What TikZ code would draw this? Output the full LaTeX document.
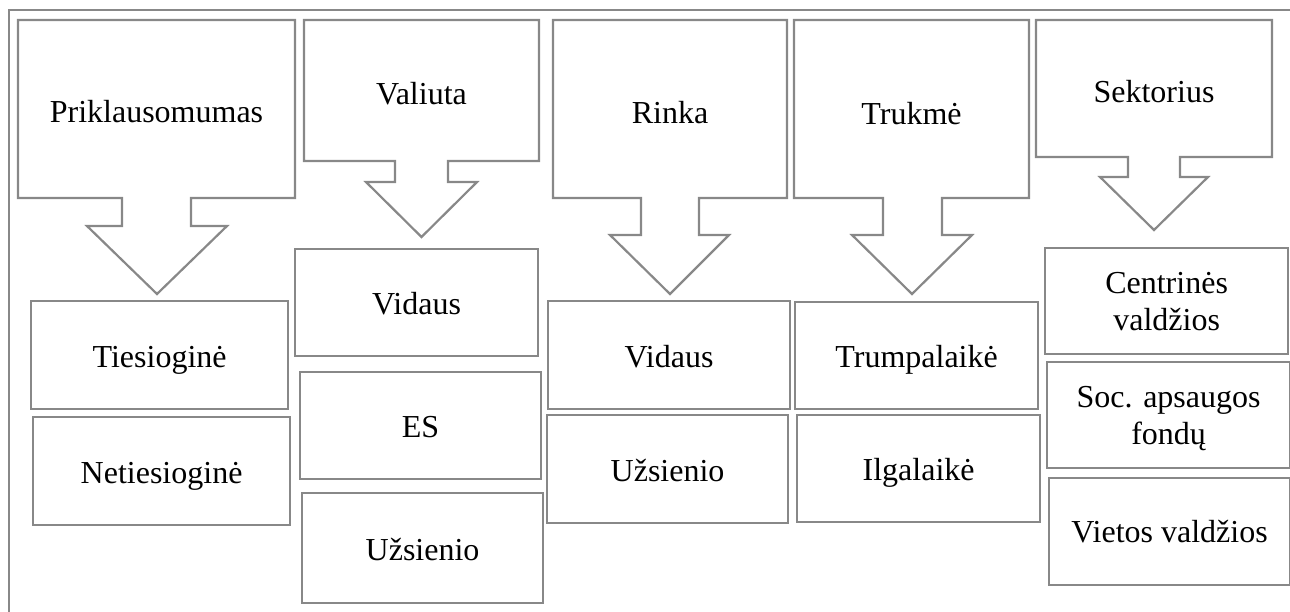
\documentclass[tikz,border=0pt]{standalone}
\usepackage{fontspec}
\setmainfont{Liberation Serif}
\definecolor{linegray}{RGB}{136,136,136}
\begin{document}
\begin{tikzpicture}[x=1pt,y=-1pt,
  ln/.style={draw=linegray, line width=2.2pt},
  lbl/.style={font=\fontsize{32}{37}\selectfont, inner sep=0pt, anchor=base},
  box/.style={ln, fill=white, inner sep=0pt, anchor=north west,
    font=\fontsize{32}{37}\selectfont, text height=24pt, text depth=0pt, align=center},
  box2/.style={box, text height=58pt}]
\useasboundingbox (0,0) rectangle (1290,612);
% outer frame (top and left only)
\draw[ln, line width=2pt] (9,612) -- (9,10) -- (1290,10);

% category callouts
\draw[ln] (18,20) -- (295,20) -- (295,198) -- (191,198) -- (191,226) -- (227,226)
  -- (157,294) -- (87,226) -- (122,226) -- (122,198) -- (18,198) -- cycle;
\node[lbl] (prik) at (156.5,123) {Priklausomumas};

\draw[ln] (304,20) -- (539,20) -- (539,161) -- (448,161) -- (448,182) -- (477,182)
  -- (421.5,237) -- (366,182) -- (395,182) -- (395,161) -- (304,161) -- cycle;
\node[lbl] (val) at (421.5,105) {Valiuta};

\draw[ln] (553,20) -- (787,20) -- (787,198) -- (699,198) -- (699,235) -- (729,235)
  -- (670,294) -- (610,235) -- (641,235) -- (641,198) -- (553,198) -- cycle;
\node[lbl] (rinka) at (670,124) {Rinka};

\draw[ln] (794,20) -- (1029,20) -- (1029,198) -- (942,198) -- (942,235) -- (972,235)
  -- (912,294) -- (852,235) -- (883,235) -- (883,198) -- (794,198) -- cycle;
\node[lbl] (truk) at (911.5,125) {Trukmė};

\draw[ln] (1036,20) -- (1272,20) -- (1272,157) -- (1180,157) -- (1180,177) -- (1208,177)
  -- (1154,230) -- (1100,177) -- (1128,177) -- (1128,157) -- (1036,157) -- cycle;
\node[lbl] (sekt) at (1154,103) {Sektorius};

% items
\node[box, minimum width=257pt, minimum height=108pt] (ties) at (30,300) {Tiesioginė};
\node[box, minimum width=257pt, minimum height=108pt] (neties) at (32,416) {Netiesioginė};

\node[box, minimum width=243pt, minimum height=107pt] (vvid) at (294,248) {Vidaus};
\node[box, minimum width=241pt, minimum height=107pt] (ves) at (299,371) {ES};
\node[box, minimum width=241pt, minimum height=110pt] (vuz) at (301,492) {Užsienio};

\node[box, minimum width=242pt, minimum height=108pt] (rvid) at (547,300) {Vidaus};
\node[box, minimum width=241pt, minimum height=108pt] (ruz) at (546,414) {Užsienio};

\node[box, minimum width=243pt, minimum height=107pt] (trump) at (794,301) {Trumpalaikė};
\node[box, minimum width=243pt, minimum height=107pt] (ilg) at (796,414) {Ilgalaikė};

\node[box2, minimum width=243pt, minimum height=106pt] (cent) at (1044,247) {Centrinės\\valdžios};
\node[box2, minimum width=243pt, minimum height=106pt] (soc) at (1046,361) {Soc. apsaugos\\fondų};
\node[box, minimum width=241pt, minimum height=107pt, text height=21pt] (viet) at (1048,477) {Vietos valdžios};
\end{tikzpicture}
\end{document}
